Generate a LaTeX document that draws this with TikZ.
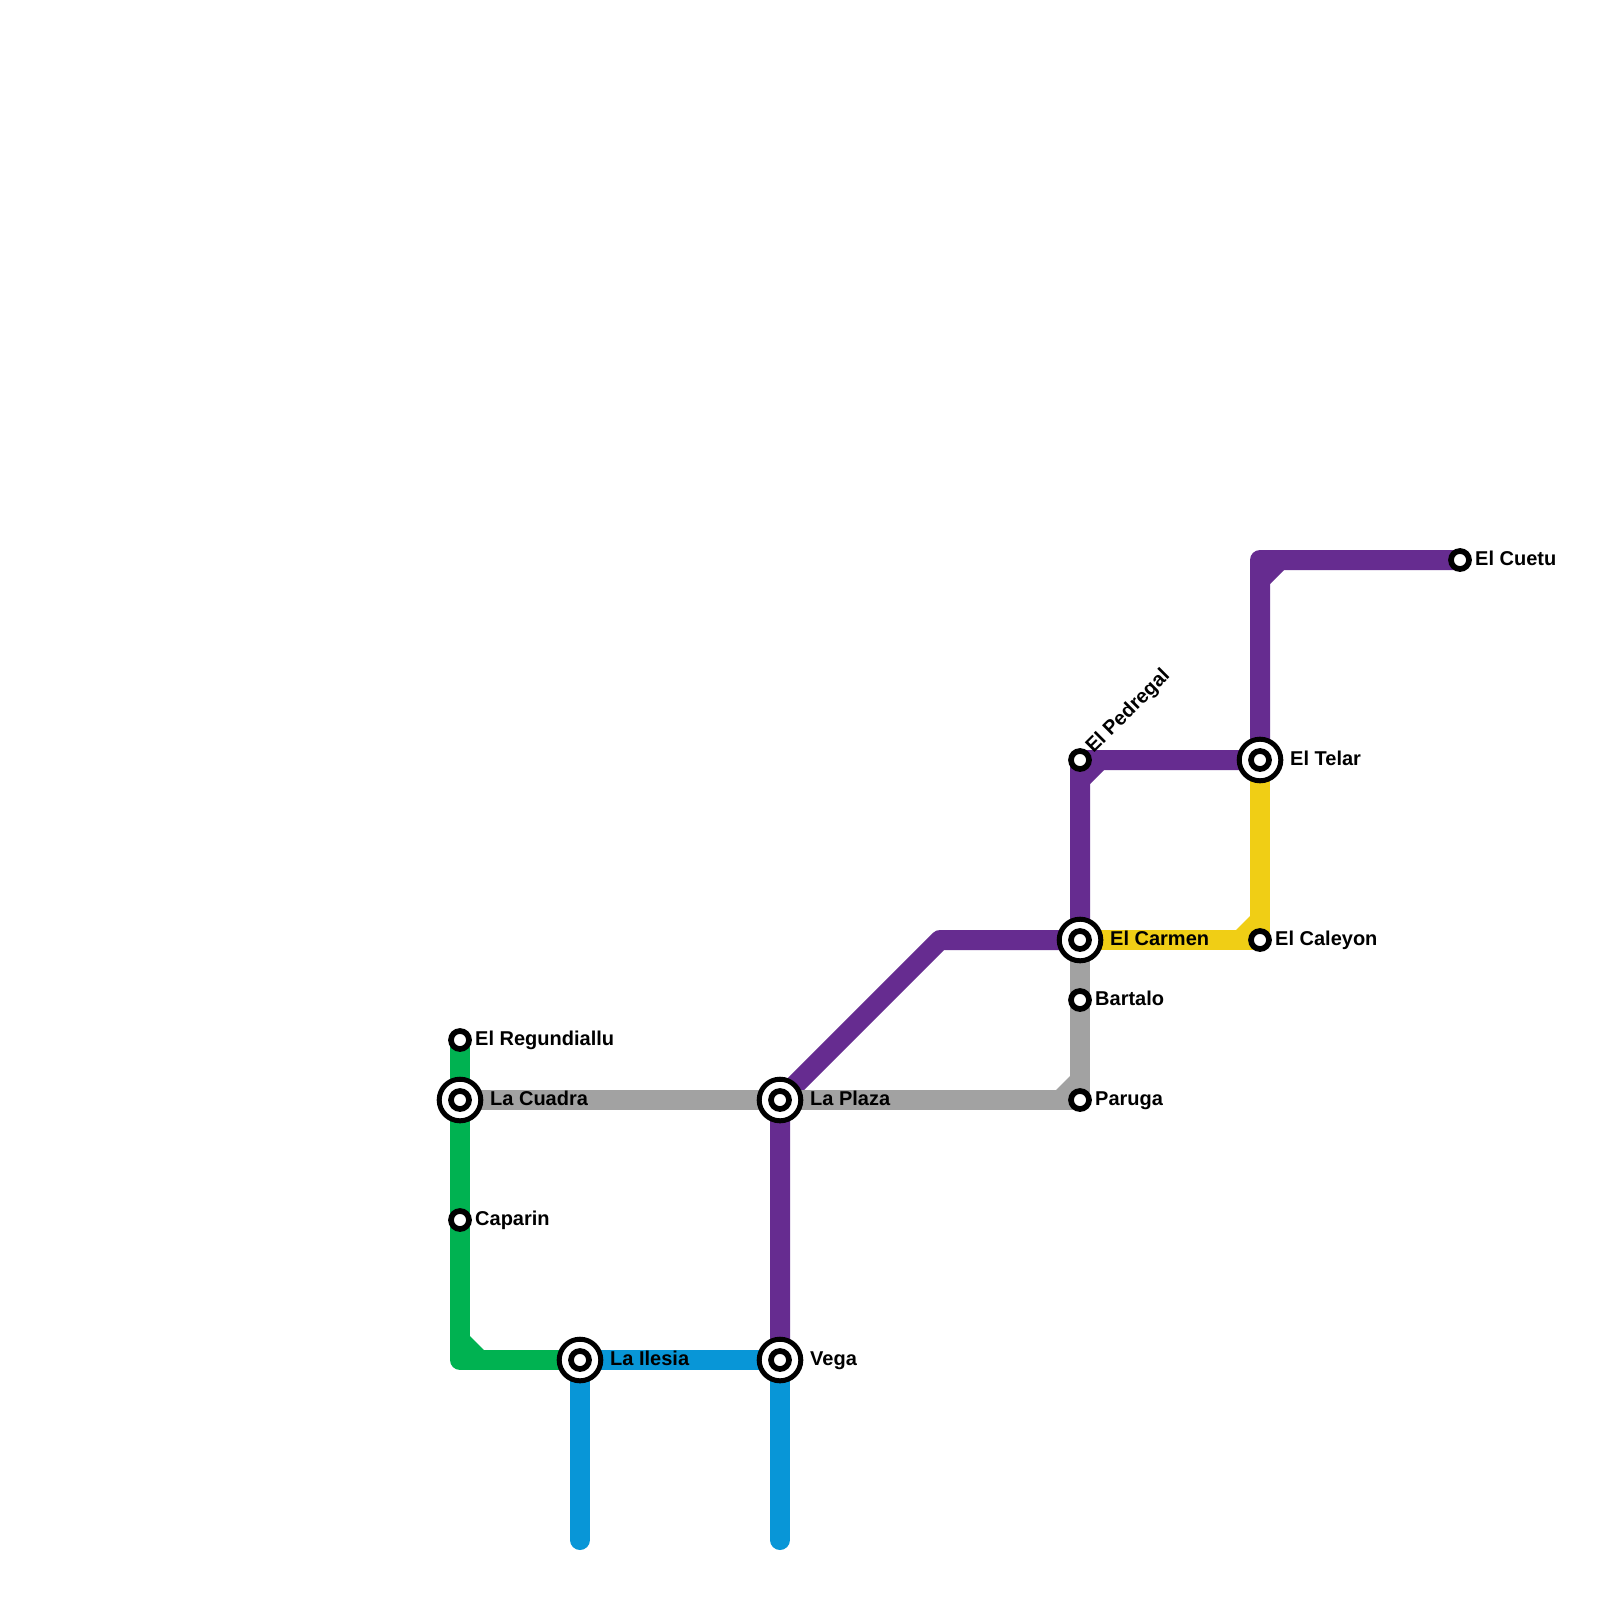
\documentclass[tikz,border=0pt]{standalone}
\usepackage{fontspec}
\setmainfont{Liberation Sans}
\definecolor{lpurple}{HTML}{662C90}
\definecolor{lgreen}{HTML}{00B251}
\definecolor{lblue}{HTML}{0896D7}
\definecolor{lgrey}{HTML}{A2A2A2}
\definecolor{lyellow}{HTML}{F0CE15}
\tikzset{
  metro/.style={line width=20pt,line join=round,line cap=round},
  stationdot/.style={circle,draw=black,fill=white,line width=5.7pt,minimum size=18pt,inner sep=0pt,outer sep=0pt},
  hubring/.style={circle,draw=black,fill=white,line width=5pt,minimum size=41.6pt,inner sep=0pt,outer sep=0pt},
  lbl/.style={anchor=base west,inner sep=0pt,font=\bfseries\fontsize{20}{22}\selectfont,text=black},
}
\begin{document}
\begin{tikzpicture}[x=1pt,y=-1pt]
\useasboundingbox (0,0) rectangle (1600,1600);
\fill[white] (0,0) rectangle (1600,1600);
% positions
\coordinate (reg) at (460,1040);
\coordinate (cua) at (460,1100);
\coordinate (cap) at (460,1220);
\coordinate (ile) at (580,1360);
\coordinate (veg) at (780,1360);
\coordinate (pla) at (780,1100);
\coordinate (car) at (1080,940);
\coordinate (bar) at (1080,1000);
\coordinate (par) at (1080,1100);
\coordinate (ped) at (1080,760);
\coordinate (tel) at (1260,760);
\coordinate (cal) at (1260,940);
\coordinate (cue) at (1460,560);
\coordinate (bendA) at (1260,560);
\coordinate (bendB) at (940,940);
\coordinate (bendC) at (460,1360);
\coordinate (endA) at (580,1540);
\coordinate (endB) at (780,1540);
% purple
\draw[metro,lpurple] (cue) -- (bendA) -- (tel) -- (ped) -- (car) -- (bendB) -- (pla) -- (veg);
\fill[lpurple] (1270,584) -- (1284,570) -- (1265,565) -- cycle;
\fill[lpurple] (1090,784) -- (1104,770) -- (1085,765) -- cycle;
% green
\draw[metro,lgreen] (reg) -- (cua) -- (cap) -- (bendC) -- (ile);
\fill[lgreen] (470,1336) -- (484,1350) -- (465,1355) -- cycle;
% blue
\draw[metro,lblue] (endA) -- (ile) -- (veg) -- (endB);
% grey
\draw[metro,lgrey] (cua) -- (pla) -- (par) -- (bar) -- (car);
\fill[lgrey] (1056,1090) -- (1070,1076) -- (1075,1095) -- cycle;
% yellow
\draw[metro,lyellow] (tel) -- (cal) -- (car);
\fill[lyellow] (1236,930) -- (1250,916) -- (1255,935) -- cycle;
% stations
\node[stationdot] (sreg) at (reg) {};
\node[stationdot] (scap) at (cap) {};
\node[stationdot] (sbar) at (bar) {};
\node[stationdot] (spar) at (par) {};
\node[stationdot] (sped) at (ped) {};
\node[stationdot] (scal) at (cal) {};
\node[stationdot] (scue) at (cue) {};
\node[hubring] (rcua) at (cua) {}; \node[stationdot] (scua) at (cua) {};
\node[hubring] (rile) at (ile) {}; \node[stationdot] (sile) at (ile) {};
\node[hubring] (rveg) at (veg) {}; \node[stationdot] (sveg) at (veg) {};
\node[hubring] (rpla) at (pla) {}; \node[stationdot] (spla) at (pla) {};
\node[hubring] (rcar) at (car) {}; \node[stationdot] (scar) at (car) {};
\node[hubring] (rtel) at (tel) {}; \node[stationdot] (stel) at (tel) {};
% labels
\node[lbl] (treg) at (475,1045) {El Regundiallu};
\node[lbl] (tcua) at (490,1105) {La Cuadra};
\node[lbl] (tcap) at (475,1225) {Caparin};
\node[lbl] (tile) at (610,1365) {La Ilesia};
\node[lbl] (tveg) at (810,1365) {Vega};
\node[lbl] (tpla) at (810,1105) {La Plaza};
\node[lbl] (tcar) at (1110,945) {El Carmen};
\node[lbl] (tbar) at (1095,1005) {Bartalo};
\node[lbl] (tpar) at (1095,1105) {Paruga};
\node[lbl,rotate=45] (tped) at (1093.5,754) {El Pedregal};
\node[lbl] (ttel) at (1290,765) {El Telar};
\node[lbl] (tcal) at (1275,945) {El Caleyon};
\node[lbl] (tcue) at (1475,565) {El Cuetu};
\end{tikzpicture}
\end{document}
